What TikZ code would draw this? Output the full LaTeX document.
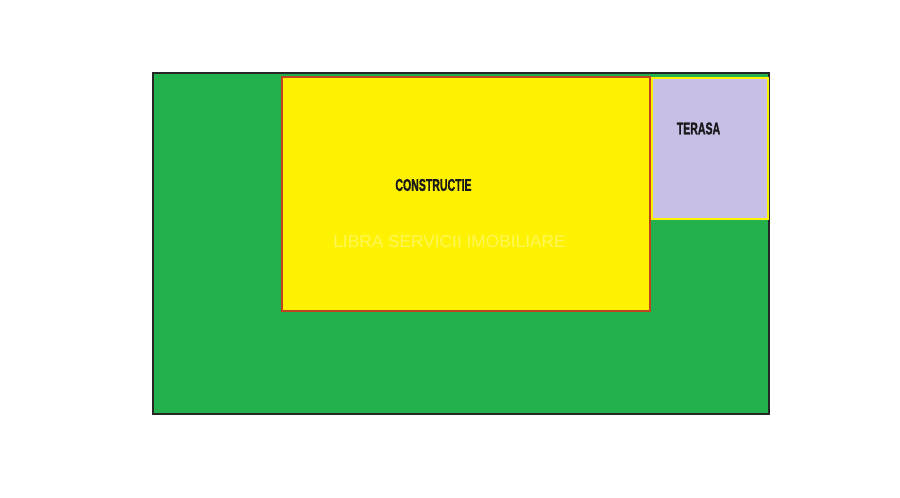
\documentclass[tikz,border=0pt]{standalone}
\usepackage{fontspec}
\setmainfont{Liberation Sans}
\newfontfamily\heavyfont{Liberation Sans}[UprightFont=*-Bold, FakeBold=1.6]
\usepackage{tikz}
\usetikzlibrary{calc}
\definecolor{lotgreen}{HTML}{22B14C}
\definecolor{houseyellow}{HTML}{FFF200}
\definecolor{houseedge}{HTML}{C0451E}
\definecolor{terracelilac}{HTML}{C8BFE7}
\tikzset{
  label text/.style={font=\fontsize{17}{18}\heavyfont, text=black!90, inner sep=0pt, xscale=0.62},
}
\begin{document}
\begin{tikzpicture}[x=1pt,y=-1pt]
    \useasboundingbox (0,0) rectangle (900,498);
    \coordinate(L1) at (153,73);
    \coordinate(L2) at (769,414);
    \coordinate(H1) at (282,77);
    \coordinate(H2) at (650,311);
    \coordinate(T1) at (652,78);
    \coordinate(T2) at (768,219);
    \filldraw[fill=lotgreen, draw=black!85, line width=2.6pt](L1) rectangle (L2);
    \filldraw[fill=houseyellow, draw=houseedge, line width=2.4pt](H1) rectangle (H2);
    \filldraw[fill=terracelilac, draw=houseyellow, line width=2.4pt](T1) rectangle (T2);
    \node[label text] (constructie) at (433.5,185) {CONSTRUCTIE};
    \node[label text] (terasa) at (698.5,128.5) {TERASA};
    \node[font=\fontsize{17.3}{19}\selectfont, text=white, text opacity=0.35, inner sep=0pt] (libra) at (449.5,241.5) {LIBRA SERVICII IMOBILIARE};
\end{tikzpicture}
\end{document}
